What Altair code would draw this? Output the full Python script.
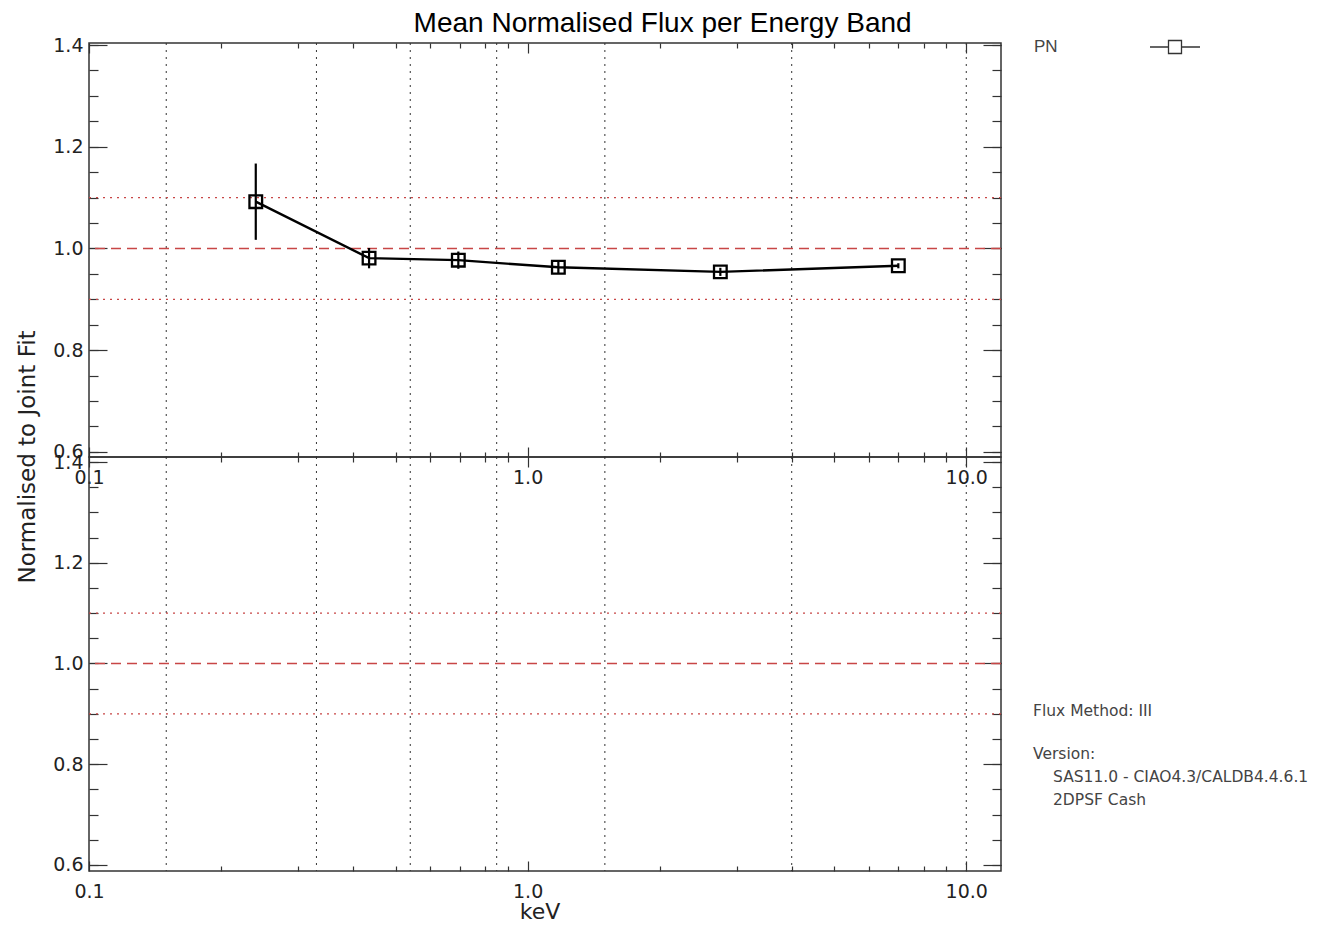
import altair as alt
import pandas as pd

# ---------------- data ----------------
energy = [0.24, 0.435, 0.695, 1.175, 2.75, 7.0]          # keV, band centres
flux = [1.092, 0.981, 0.977, 0.963, 0.954, 0.966]        # mean normalised flux (PN)
flux_err = [0.075, 0.020, 0.017, 0.012, 0.008, 0.005]
band_edges = [0.15, 0.33, 0.54, 0.85, 1.5, 4.0, 10.0]
ref_dashed = [1.0]
ref_dotted = [0.9, 1.1]
x_major = [0.1, 1.0, 10.0]
x_minor = [0.2, 0.3, 0.4, 0.5, 0.6, 0.7, 0.8, 0.9, 2, 3, 4, 5, 6, 7, 8, 9]
y_major = [0.6, 0.8, 1.0, 1.2, 1.4]
y_minor = [0.6, 0.65, 0.7, 0.75, 0.8, 0.85, 0.9, 0.95, 1.0, 1.05, 1.1,
           1.15, 1.2, 1.25, 1.3, 1.35, 1.4]
legend_label = ["PN"]
info_lines = ["Flux Method: III", "Version:", "SAS11.0 - CIAO4.3/CALDB4.4.6.1", "2DPSF Cash"]

W, H = 912, 414
RED = "#c84646"
INK = "#222222"
LABEL_FONT = "DejaVu Sans"

pts = pd.DataFrame({
    "energy": energy,
    "flux": flux,
    "lo": [f - e for f, e in zip(flux, flux_err)],
    "hi": [f + e for f, e in zip(flux, flux_err)],
})
edges_df = pd.DataFrame({"edge": band_edges, "ref": [1.0] * len(band_edges)})
dash_df = pd.DataFrame({"ref": ref_dashed})
dot_df = pd.DataFrame({"ref": ref_dotted})

xs = alt.Scale(type="log", domain=[0.1, 12.0], nice=False)


def label_x_axis():
    return alt.Axis(orient="bottom", values=x_major, format=".1f", ticks=False, tickSize=0,
                    domain=False, grid=False, title=None, labelFont=LABEL_FONT,
                    labelFontSize=19, labelColor=INK, labelPadding=11,
                    labelFlush=False, labelOverlap=False)


def label_y_axis():
    return alt.Axis(orient="left", values=y_major, format=".1f", ticks=False, tickSize=0,
                    domain=False, grid=False, title=None, labelFont=LABEL_FONT,
                    labelFontSize=19, labelColor=INK, labelPadding=6,
                    labelOverlap=False, labelFlush=False)


def tick_axis(orient, offset, values, size):
    return alt.Axis(orient=orient, offset=offset, values=values, tickSize=size,
                    labels=False, domain=False, grid=False, title=None,
                    tickColor="#333333", tickWidth=1.2)


def tick_layers(data, xf, yf, ys):
    specs = [
        (tick_axis("top", -H, x_major, 10), tick_axis("right", -W, y_major, 18)),
        (tick_axis("top", -H, x_minor, 5), tick_axis("right", -W, y_minor, 9)),
        (tick_axis("bottom", -H, x_major, 10), tick_axis("left", -W, y_major, 18)),
        (tick_axis("bottom", -H, x_minor, 5), tick_axis("left", -W, y_minor, 9)),
    ]
    out = []
    for xa, ya in specs:
        out.append(
            alt.Chart(data).mark_point(opacity=0).encode(
                x=alt.X(xf, scale=xs, axis=xa),
                y=alt.Y(yf, scale=ys, axis=ya),
            )
        )
    return out


def reference_layers(ys):
    vgrid = alt.Chart(edges_df).mark_rule(color="#333333", strokeDash=[2, 5], strokeWidth=1).encode(
        x=alt.X("edge:Q", scale=xs, axis=label_x_axis())
    )
    hdash = alt.Chart(dash_df).mark_rule(color=RED, strokeDash=[10, 6], strokeWidth=1.4).encode(
        y=alt.Y("ref:Q", scale=ys, axis=label_y_axis())
    )
    hdot = alt.Chart(dot_df).mark_rule(color=RED, strokeDash=[2, 5], strokeWidth=1.4).encode(
        y=alt.Y("ref:Q", scale=ys, axis=None)
    )
    return [vgrid, hdash, hdot]


# ---------------- top panel ----------------
ys_top = alt.Scale(domain=[0.590, 1.404], nice=False, zero=False)

err = alt.Chart(pts).mark_rule(color="black", strokeWidth=2.2).encode(
    x=alt.X("energy:Q", scale=xs, axis=None),
    y=alt.Y("lo:Q", scale=ys_top, axis=None),
    y2="hi:Q",
)
line = alt.Chart(pts).mark_line(color="black", strokeWidth=2.4).encode(
    x=alt.X("energy:Q", scale=xs, axis=None),
    y=alt.Y("flux:Q", scale=ys_top, axis=None),
)
markers = alt.Chart(pts).mark_point(shape="square", size=160, filled=False, color="black",
                                    strokeWidth=2.3, opacity=1).encode(
    x=alt.X("energy:Q", scale=xs, axis=None),
    y=alt.Y("flux:Q", scale=ys_top, axis=None),
)

ytitle = alt.Chart(pd.DataFrame({"t": ["Normalised to Joint Fit"]})).mark_text(
    angle=270, font=LABEL_FONT, fontSize=23, color=INK, align="center", baseline="middle"
).encode(text="t:N", x=alt.value(-61), y=alt.value(H))

pn_text = alt.Chart(pd.DataFrame({"t": legend_label})).mark_text(
    font="Liberation Sans", fontSize=17, color="#444444", align="left", baseline="middle"
).encode(text="t:N", x=alt.value(W + 33), y=alt.value(4))

legend_path = "M-1,0L-0.26,0M0.26,0L1,0M-0.26,-0.26L0.26,-0.26L0.26,0.26L-0.26,0.26Z"
pn_symbol = alt.Chart(pd.DataFrame({"t": legend_label})).mark_point(
    shape=legend_path, size=2500, filled=False, color="#333333", strokeWidth=1.3, opacity=1
).encode(x=alt.value(W + 174), y=alt.value(4))

top = alt.layer(
    *reference_layers(ys_top),
    err, line, markers,
    *tick_layers(pts, "energy:Q", "flux:Q", ys_top),
    ytitle, pn_text, pn_symbol,
).resolve_axis(x="independent", y="independent").properties(width=W, height=H)

# ---------------- bottom panel ----------------
ys_bot = alt.Scale(domain=[0.588, 1.410], nice=False, zero=False)

xtitle = alt.Chart(pd.DataFrame({"t": ["keV"]})).mark_text(
    font=LABEL_FONT, fontSize=22, color=INK, align="center", baseline="middle"
).encode(text="t:N", x=alt.value(451), y=alt.value(H + 41))

info_y = [254, 297, 320, 343]
info_x = [W + 32, W + 32, W + 52, W + 52]
info_layers = []
for txt, xx, yy in zip(info_lines, info_x, info_y):
    info_layers.append(
        alt.Chart(pd.DataFrame({"t": [txt]})).mark_text(
            font=LABEL_FONT, fontSize=15.5, color="#444444", align="left", baseline="middle"
        ).encode(text="t:N", x=alt.value(xx), y=alt.value(yy))
    )

bottom = alt.layer(
    *reference_layers(ys_bot),
    *tick_layers(edges_df, "edge:Q", "ref:Q", ys_bot),
    xtitle, *info_layers,
).resolve_axis(x="independent", y="independent").properties(width=W, height=H)

chart = alt.vconcat(top, bottom, spacing=0, bounds="flush").properties(
    title=alt.TitleParams("Mean Normalised Flux per Energy Band", font="Liberation Sans",
                          fontSize=28, fontWeight="normal", color="black", anchor="middle",
                          offset=-3),
    padding={"left": 8, "top": 2, "right": 5, "bottom": 5},
    background="white",
).configure_view(stroke="#333333", strokeWidth=1.5)

chart.save("out.html", embed_options={"renderer": "svg", "actions": False})
